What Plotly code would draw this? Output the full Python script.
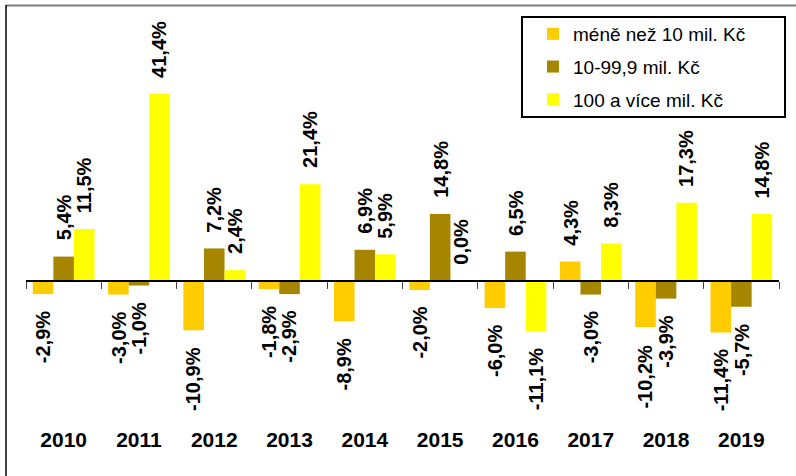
import plotly.graph_objects as go

years = ["2010", "2011", "2012", "2013", "2014", "2015", "2016", "2017", "2018", "2019"]
series_names = ["méně než 10 mil. Kč", "10-99,9 mil. Kč", "100 a více mil. Kč"]
small = [-2.9, -3.0, -10.9, -1.8, -8.9, -2.0, -6.0, 4.3, -10.2, -11.4]
medium = [5.4, -1.0, 7.2, -2.9, 6.9, 14.8, 6.5, -3.0, -3.9, -5.7]
large = [11.5, 41.4, 2.4, 21.4, 5.9, 0.0, -11.1, 8.3, 17.3, 14.8]
colors = ["#FFCC00", "#A68600", "#FFFF00"]

FONT = "Arial, Liberation Sans, sans-serif"
W, H = 796, 476
ML, MR, MT, MB = 26, 17, 15, 51
PW, PH = W - ML - MR, H - MT - MB
YMIN, YMAX = -31.86, 58.85
BARGAP = 0.18

def px2paper_x(px):
    return (px - ML) / PW

def px2paper_y(py):
    return (H - MB - py) / PH

def fmt(v):
    return f"{v:.1f}".replace(".", ",") + "%"

fig = go.Figure()
all_series = [small, medium, large]
for name, vals, col in zip(series_names, all_series, colors):
    fig.add_trace(go.Bar(
        x=years, y=vals, name=name, marker=dict(color=col, line=dict(width=0)),
        legendgroup=name,
    ))

# data labels
bw = (1 - BARGAP) / 3
annotations = []
for j, vals in enumerate(all_series):
    for i, v in enumerate(vals):
        pos = v >= 0
        annotations.append(dict(
            x=i + (j - 1) * bw, y=v, xref="x", yref="y",
            text=fmt(v), showarrow=False, textangle=-90,
            xanchor="center", yanchor="bottom" if pos else "top",
            yshift=14 if pos else -15,
            font=dict(family=FONT, size=20, color="black", weight="bold"),
        ))

zero_frac = (0 - YMIN) / (YMAX - YMIN)

shapes = [
    # outer frame (cropped)
    dict(type="line", xref="paper", yref="paper",
         x0=px2paper_x(6), x1=px2paper_x(800), y0=px2paper_y(5.5), y1=px2paper_y(5.5),
         line=dict(color="#808080", width=2)),
    dict(type="line", xref="paper", yref="paper",
         x0=px2paper_x(6), x1=px2paper_x(6), y0=px2paper_y(5), y1=px2paper_y(480),
         line=dict(color="black", width=1.5)),
    # legend box
    dict(type="rect", xref="paper", yref="paper",
         x0=px2paper_x(522), x1=px2paper_x(785), y0=px2paper_y(17), y1=px2paper_y(117),
         line=dict(color="black", width=2), fillcolor="rgba(0,0,0,0)"),
]

fig.update_layout(
    width=W, height=H,
    margin=dict(l=ML, r=MR, t=MT, b=MB, autoexpand=False),
    paper_bgcolor="white", plot_bgcolor="white",
    barmode="group", bargap=BARGAP, bargroupgap=0,
    font=dict(family=FONT, color="black"),
    showlegend=True,
    legend=dict(
        x=px2paper_x(533), y=px2paper_y(15), xanchor="left", yanchor="top",
        xref="paper", yref="paper",
        bgcolor="rgba(0,0,0,0)", borderwidth=0,
        font=dict(family=FONT, size=19, color="black"),
        tracegroupgap=5, traceorder="grouped",
    ),
    xaxis=dict(
        type="category", anchor="free", position=zero_frac,
        showline=True, linecolor="black", linewidth=1.5,
        ticks="outside", ticklen=7, tickwidth=1, tickcolor="#444",
        tickson="boundaries", showgrid=False,
        ticklabelstandoff=140,
        tickfont=dict(family=FONT, size=21, color="black", weight="bold"),
    ),
    yaxis=dict(
        range=[YMIN, YMAX], visible=False, showgrid=False, zeroline=False,
    ),
    annotations=annotations,
    shapes=shapes,
)

fig.write_html("out.html", config={"displayModeBar": False},
               post_script="document.body.style.margin='0';")
